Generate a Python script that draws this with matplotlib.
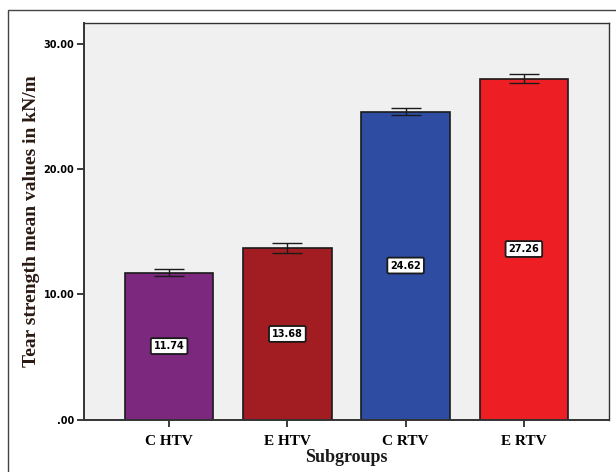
import matplotlib
matplotlib.use("Agg")
import matplotlib.pyplot as plt
from matplotlib.patches import Rectangle

# --------------------------------------------------------------
# Data
# --------------------------------------------------------------

subgroups = ["C HTV", "E HTV", "C RTV", "E RTV"]
means = [11.74, 13.68, 24.62, 27.26]
errors = [0.27, 0.40, 0.30, 0.36]
colors = ["#7B287E", "#A11D21", "#2E4CA2", "#EE1E25"]
yticks = [0, 10, 20, 30]
ytick_labels = [".00", "10.00", "20.00", "30.00"]

# --------------------------------------------------------------
# Plot
# --------------------------------------------------------------

fig = plt.figure(figsize=(6.16, 4.72), dpi=100)
ax = fig.add_axes([84 / 616, 1 - 419.5 / 472, 525 / 616, 396.5 / 472])
ax.set_facecolor("#F0F0F0")

x = range(len(subgroups))
ax.bar(x, means, width=0.75, color=colors, edgecolor="#1a1a1a", linewidth=1.2, zorder=2)
ax.errorbar(x, means, yerr=errors, fmt="none", ecolor="#1a1a1a",
            elinewidth=1.0, capsize=10.5, capthick=1.0, zorder=3)

for xi, m in zip(x, means):
    ax.text(xi, m / 2, f"{m:.2f}", ha="center", va="center", fontsize=7,
            fontweight="bold", family="DejaVu Sans", zorder=4,
            bbox=dict(boxstyle="round,pad=0.3,rounding_size=0.15",
                      facecolor="white", edgecolor="#1a1a1a", linewidth=1.3))

ax.set_xlim(-0.72, 3.72)
ax.set_ylim(0, 31.7)
ax.set_yticks(yticks)
ax.set_yticklabels(ytick_labels, fontsize=7, fontweight="bold", family="DejaVu Sans")
ax.set_xticks(list(x))
ax.set_xticklabels(subgroups, fontsize=11, fontweight="bold", family="Liberation Serif")
ax.tick_params(axis="both", length=5, width=1.2, color="#1a1a1a", pad=2)
ax.tick_params(axis="x", pad=6)

for s in ax.spines.values():
    s.set_color("#333333")
    s.set_linewidth(1.0)
ax.spines["left"].set_linewidth(1.4)
ax.spines["bottom"].set_linewidth(1.4)

ax.set_xlabel("Subgroups", fontsize=13, fontweight="bold", family="Liberation Serif",
              color="#1a1a1a")
ax.xaxis.set_label_coords(0.5, -(449 - 419.5) / 396.5)
ax.set_ylabel("Tear strength mean values in kN/m", fontsize=14, fontweight="bold",
              family="Liberation Serif", color="#2a1a12")
ax.yaxis.set_label_coords(-(84 - 40) / 525, 0.5)

# outer frame
fig.patches.append(Rectangle((8 / 616, -0.05), 1.1, 1 - 10 / 472 + 0.05,
                             transform=fig.transFigure, fill=False,
                             edgecolor="#444444", linewidth=1.0))

fig.savefig("out.png", dpi=100)
